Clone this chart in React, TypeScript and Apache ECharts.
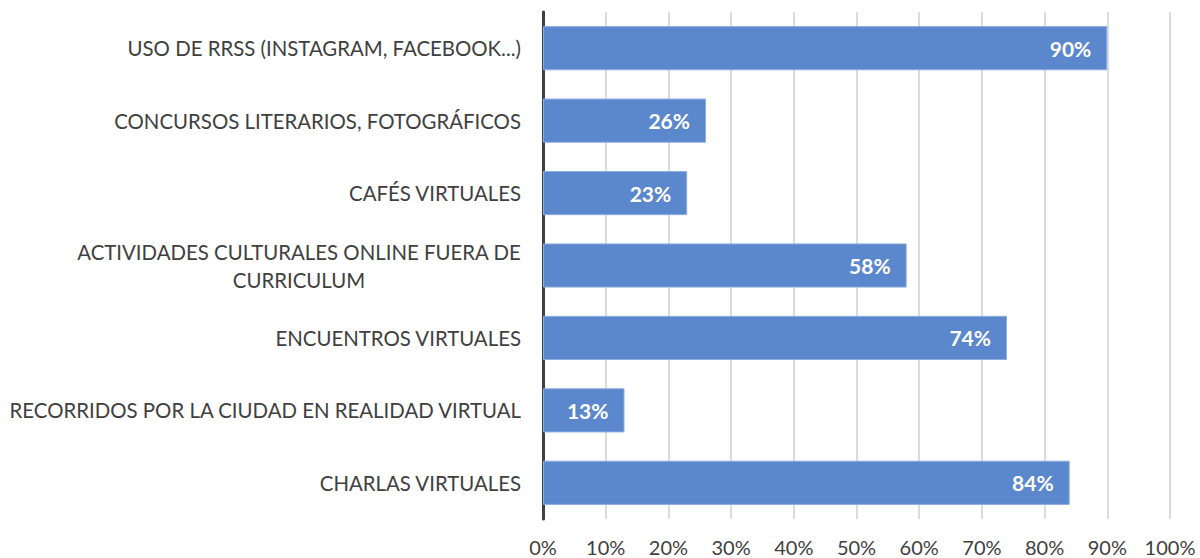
import React, { useEffect, useRef } from "react";
import * as echarts from "echarts";

const categories = [
  "USO DE RRSS (INSTAGRAM, FACEBOOK...)",
  "CONCURSOS LITERARIOS, FOTOGRÁFICOS",
  "CAFÉS VIRTUALES",
  "ACTIVIDADES CULTURALES ONLINE FUERA DE\nCURRICULUM",
  "ENCUENTROS VIRTUALES",
  "RECORRIDOS POR LA CIUDAD EN REALIDAD VIRTUAL",
  "CHARLAS VIRTUALES",
];
const values = [90, 26, 23, 58, 74, 13, 84];
const xTicks = [0, 10, 20, 30, 40, 50, 60, 70, 80, 90, 100];

const FONT = "Lato";

export default function App() {
  const ref = useRef<HTMLDivElement>(null);
  useEffect(() => {
    if (!ref.current) return;
    const chart = echarts.init(ref.current, undefined, { renderer: "svg" });
    chart.setOption({
      animation: false,
      grid: { left: 543, right: 30, top: 12, bottom: 39, containLabel: false },
      xAxis: {
        type: "value",
        min: xTicks[0],
        max: xTicks[xTicks.length - 1],
        interval: 10,
        axisLine: { show: false },
        axisTick: { show: false },
        splitLine: { show: true, lineStyle: { color: "#d0d0d0", width: 1.5 } },
        axisLabel: {
          color: "#404040",
          fontFamily: FONT,
          fontSize: 20,
          margin: 18,
          formatter: (v: number) => v + "%",
        },
      },
      yAxis: {
        type: "category",
        data: categories,
        inverse: true,
        axisLine: { show: true, lineStyle: { color: "#404040", width: 3 } },
        axisTick: { show: false },
        axisLabel: {
          color: "#404040",
          fontFamily: FONT,
          fontSize: 20.4,
          margin: 22,
          lineHeight: 28,
          formatter: (v: string) =>
            v.indexOf("\n") >= 0
              ? v
                  .split("\n")
                  .map((l) => "{c|" + l + "}")
                  .join("\n")
              : v,
          rich: {
            c: {
              align: "center",
              color: "#404040",
              fontFamily: FONT,
              fontSize: 20.4,
              lineHeight: 28,
            },
          },
        },
      },
      series: [
        {
          type: "bar",
          data: values,
          barCategoryGap: "39%",
          itemStyle: { color: "#5b87cc", borderColor: "#8eaee0", borderWidth: 1 },
          label: {
            show: true,
            position: "insideRight",
            distance: 16,
            color: "#ffffff",
            fontFamily: FONT,
            fontWeight: "bold",
            fontSize: 21,
            formatter: (p: any) => p.value + "%",
          },
        },
      ],
    });
    return () => chart.dispose();
  }, []);
  return <div ref={ref} style={{ width: 1200, height: 558, position: "absolute", left: 0, top: 0 }} />;
}
